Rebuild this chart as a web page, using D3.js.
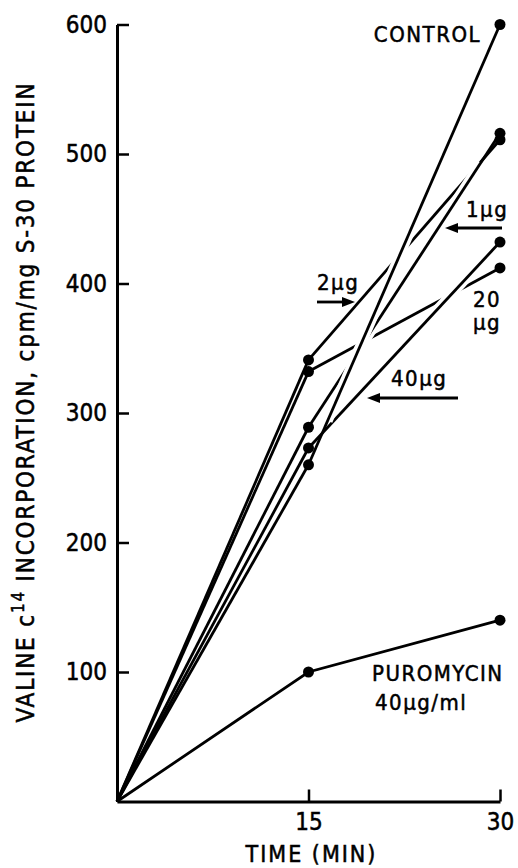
<!DOCTYPE html>
<html>
<head>
<meta charset="utf-8">
<script src="https://cdn.jsdelivr.net/npm/d3@7"></script>
<style>
  body { margin: 0; background: #fff; }
  svg text { font-family: "DejaVu Sans Condensed", "DejaVu Sans", sans-serif; fill: #000; stroke: #000; stroke-width: 0.5px; }
</style>
</head>
<body>
<svg id="chart" width="518" height="868"></svg>
<script>
// time points (min)
const times = [0, 15, 30];
const xTicks = [15, 30];
const yTicks = [100, 200, 300, 400, 500, 600];

// valine incorporation, cpm/mg S-30 protein
const control = [0, 260, 600];
const oneUg = [0, 289, 516];
const twoUg = [0, 341, 511];
const twentyUg = [0, 332, 412];
const fortyUg = [0, 273, 432];
const puromycin = [0, 100, 140];

// drawing order: later lines cut gaps in earlier ones
const series = [
  { name: '2 ug', values: twoUg },
  { name: '20 ug', values: twentyUg },
  { name: '1 ug', values: oneUg },
  { name: '40 ug', values: fortyUg },
  { name: 'control', values: control }
];

const svg = d3.select('#chart');

const x = d3.scaleLinear().domain([0, 30]).range([117, 500]);
const y = d3.scaleLinear().domain([0, 600]).range([801.5, 24.5]);

// axes
const yAxis = svg.append('g')
  .attr('transform', `translate(${x(0)},0)`)
  .call(d3.axisLeft(y).tickValues(yTicks).tickSizeInner(-12).tickSizeOuter(0).tickPadding(10));
const xAxis = svg.append('g')
  .attr('transform', `translate(0,${y(0)})`)
  .call(d3.axisBottom(x).tickValues(xTicks).tickSizeInner(-12).tickSizeOuter(0).tickPadding(11));

[yAxis, xAxis].forEach(g => {
  g.select('.domain').attr('stroke', '#000').attr('stroke-width', 3);
  g.selectAll('.tick line').attr('stroke', '#000').attr('stroke-width', 2.5);
  g.selectAll('.tick text')
    .attr('font-size', 24)
    .attr('font-family', '"DejaVu Sans Condensed", "DejaVu Sans", sans-serif');
});

const pts = vals => vals.map((v, i) => [x(times[i]), y(v)]);
const line = d3.line();
const lines = svg.append('g');

// first segments, origin to 15 min
series.forEach(s => {
  lines.append('path')
    .attr('d', line(pts(s.values).slice(0, 2)))
    .attr('fill', 'none').attr('stroke', '#000').attr('stroke-width', 2.8);
});

// second segments with white casing
series.forEach(s => {
  const p = pts(s.values);
  const a = p[1], b = p[2];
  const lerp = t => [a[0] + (b[0] - a[0]) * t, a[1] + (b[1] - a[1]) * t];
  lines.append('path')
    .attr('d', line([lerp(0.1), lerp(0.9)]))
    .attr('fill', 'none').attr('stroke', '#fff').attr('stroke-width', 10);
  lines.append('path')
    .attr('d', line([a, b]))
    .attr('fill', 'none').attr('stroke', '#000').attr('stroke-width', 2.8);
});

// puromycin
lines.append('path')
  .attr('d', line(pts(puromycin)))
  .attr('fill', 'none').attr('stroke', '#000').attr('stroke-width', 2.8);

// points
const allPts = series.concat([{ name: 'puromycin', values: puromycin }])
  .flatMap(s => pts(s.values).slice(1));
svg.append('g').selectAll('circle')
  .data(allPts)
  .join('circle')
  .attr('cx', d => d[0])
  .attr('cy', d => d[1])
  .attr('r', 5.5)
  .attr('fill', '#000');

// axis titles
svg.append('text')
  .attr('x', x(15) + 3).attr('y', 862)
  .attr('text-anchor', 'middle')
  .attr('font-size', 23).attr('letter-spacing', 2)
  .text('TIME (MIN)');

const yt = svg.append('text')
  .attr('transform', 'translate(34,402) rotate(-90)')
  .attr('text-anchor', 'middle')
  .attr('font-size', 24).attr('letter-spacing', 1.8);
yt.append('tspan').text('VALINE c');
yt.append('tspan').attr('font-size', 17).attr('dy', -10).text('14');
yt.append('tspan').attr('dy', 10).text(' INCORPORATION, cpm/mg  S-30  PROTEIN');

// annotations
const label = (tx, ty, str, anchor) => svg.append('text')
  .attr('x', tx).attr('y', ty)
  .attr('text-anchor', anchor || 'start')
  .attr('font-size', 22).attr('letter-spacing', 1.5)
  .text(str);

label(481, 42, 'CONTROL', 'end');
label(466, 217, '1\u03bcg');
label(317, 290, '2\u03bcg');
label(473, 307, '20');
label(473, 330, '\u03bcg');
label(391, 386, '40\u03bcg');
label(372, 681, 'PUROMYCIN');
label(375, 710, '40\u03bcg/ml');

const arrow = (x1, x2, yy) => {
  const dir = Math.sign(x2 - x1);
  svg.append('line')
    .attr('x1', x1).attr('x2', x2 - dir * 10).attr('y1', yy).attr('y2', yy)
    .attr('stroke', '#000').attr('stroke-width', 2.8);
  svg.append('path')
    .attr('d', `M${x2},${yy} L${x2 - dir * 13},${yy - 5} L${x2 - dir * 13},${yy + 5} Z`)
    .attr('fill', '#000');
};
arrow(502, 445, 228);
arrow(317, 355, 302);
arrow(458, 367, 398);
</script>
</body>
</html>
